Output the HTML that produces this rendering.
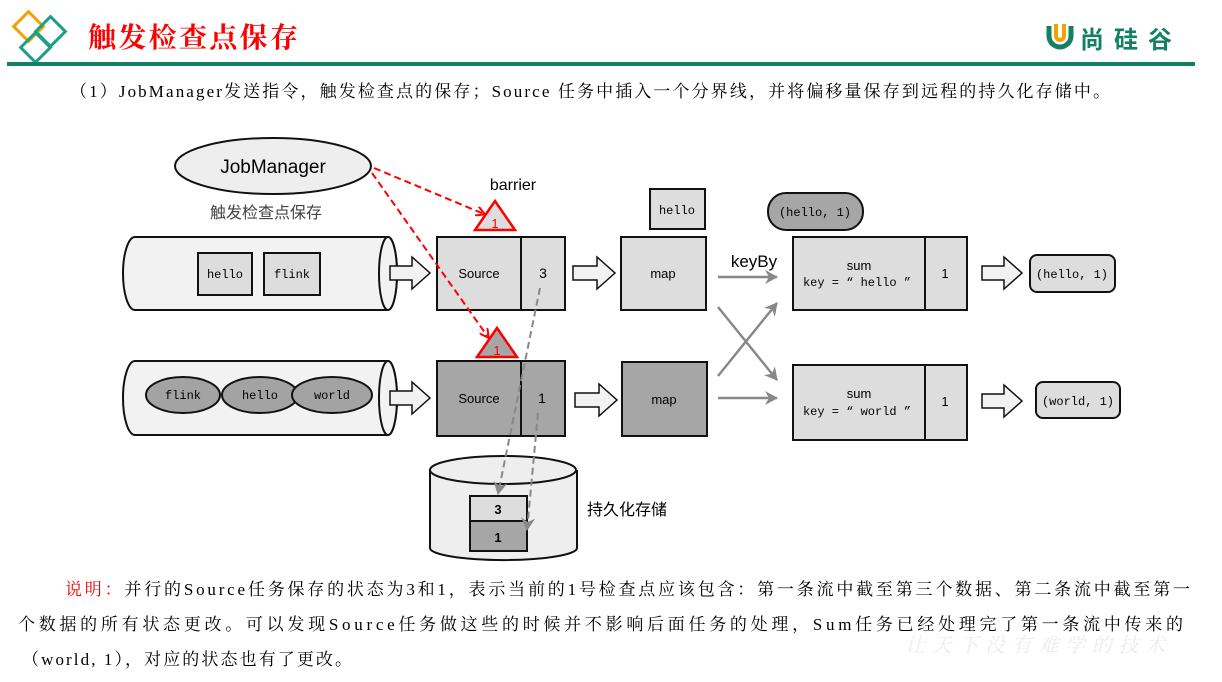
<!DOCTYPE html>
<html><head><meta charset="utf-8"><style>
html,body{margin:0;padding:0;background:#fff;width:1222px;height:682px;overflow:hidden}
svg{display:block}
.s{font-family:"Liberation Serif","Noto Serif CJK SC","Noto Sans CJK SC",serif}
.a{font-family:"Liberation Sans","Noto Sans CJK SC",sans-serif}
.m{font-family:"Liberation Mono","DejaVu Sans Mono",monospace}
</style></head><body>
<svg width="1222" height="682" viewBox="0 0 1222 682" xmlns="http://www.w3.org/2000/svg">
<defs>
<marker id="ra" markerWidth="10" markerHeight="10" refX="8" refY="5" orient="auto" markerUnits="userSpaceOnUse"><path d="M0,0 L9,5 L0,10" fill="none" stroke="#f00" stroke-width="2"/></marker>
<marker id="ga" markerWidth="14" markerHeight="14" refX="12" refY="7" orient="auto" markerUnits="userSpaceOnUse"><path d="M0,0 L13,7 L0,14 L4,7 Z" fill="#888"/></marker>
</defs>
<g fill="none" stroke-width="3">
<rect x="18" y="16" width="21" height="21" transform="rotate(45 28.5 26.5)" stroke="#f5a000"/>
<rect x="40" y="21" width="21" height="21" transform="rotate(45 50.5 31.5)" stroke="#1aa088"/>
<rect x="25" y="37" width="21" height="21" transform="rotate(45 35.5 47.5)" stroke="#1aa088"/>
</g>
<text x="88" y="47" class="s" font-size="28" fill="#f00" font-weight="bold" textLength="210">触发检查点保存</text>
<rect x="7" y="62" width="1188" height="4" fill="#138064"/>
<path d="M1049,26 v10 a11,11 0 0 0 22,0 v-10" fill="none" stroke="#138064" stroke-width="5"/>
<path d="M1056,24 v12 a4,4 0 0 0 8,0 v-12" fill="none" stroke="#f5a000" stroke-width="4"/>
<text x="1080" y="48" class="a" font-size="24" fill="#138064" font-weight="bold" textLength="92">尚硅谷</text>
<text x="70" y="97" class="s" font-size="17" fill="#000" textLength="1040">（1）JobManager发送指令，触发检查点的保存；Source 任务中插入一个分界线，并将偏移量保存到远程的持久化存储中。</text>

<ellipse cx="273" cy="166" rx="98" ry="28" fill="#eee" stroke="#111" stroke-width="2"/>
<text x="273" y="173" class="a" font-size="19" text-anchor="middle">JobManager</text>
<text x="266" y="218" class="a" font-size="16" fill="#444" text-anchor="middle">触发检查点保存</text>

<g stroke="#111" stroke-width="2">
<path d="M135,237 H388 A9,36.5 0 0 1 388,310 H135 A12,36.5 0 0 1 135,237 Z" fill="#f2f2f2"/>
<ellipse cx="388" cy="273.5" rx="9" ry="36.5" fill="#f2f2f2"/>
<path d="M135,361 H388 A9,37 0 0 1 388,435 H135 A12,37 0 0 1 135,361 Z" fill="#f2f2f2"/>
<ellipse cx="388" cy="398" rx="9" ry="37" fill="#f2f2f2"/>
<rect x="198" y="253" width="54" height="42" fill="#ddd"/>
<rect x="264" y="253" width="56" height="42" fill="#ddd"/>
<ellipse cx="183" cy="395" rx="37" ry="18" fill="#a3a3a3"/>
<ellipse cx="260" cy="395" rx="38" ry="18" fill="#a3a3a3"/>
<ellipse cx="332" cy="395" rx="40" ry="18" fill="#a3a3a3"/>
</g>
<g class="m" font-size="12" text-anchor="middle">
<text x="225" y="278">hello</text><text x="292" y="278">flink</text>
<text x="183" y="399">flink</text><text x="260" y="399">hello</text><text x="332" y="399">world</text>
</g>

<g fill="#f2f2f2" stroke="#111" stroke-width="1.5">
<path d="M390,266 h22 v-9 l18,16 l-18,16 v-9 h-22 z"/>
<path d="M390,391 h22 v-9 l18,16 l-18,16 v-9 h-22 z"/>
<path d="M573,266 h24 v-9 l18,16 l-18,16 v-9 h-24 z"/>
<path d="M575,393 h24 v-9 l18,16 l-18,16 v-9 h-24 z"/>
<path d="M982,266 h22 v-9 l18,16 l-18,16 v-9 h-22 z"/>
<path d="M982,394 h22 v-9 l18,16 l-18,16 v-9 h-22 z"/>
</g>

<g stroke="#111" stroke-width="2">
<rect x="437" y="237" width="128" height="73" fill="#ddd"/>
<line x1="521" y1="237" x2="521" y2="310"/>
<rect x="437" y="361" width="128" height="75" fill="#a6a6a6"/>
<line x1="521" y1="361" x2="521" y2="436"/>
<rect x="621" y="237" width="85" height="73" fill="#ddd"/>
<rect x="622" y="362" width="85" height="74" fill="#a6a6a6"/>
<rect x="650" y="189" width="55" height="40" fill="#ddd"/>
<rect x="793" y="237" width="174" height="73" fill="#ddd"/>
<line x1="925" y1="237" x2="925" y2="310"/>
<rect x="793" y="365" width="174" height="75" fill="#ddd"/>
<line x1="925" y1="365" x2="925" y2="440"/>
<rect x="768" y="193" width="95" height="37" rx="18" fill="#a6a6a6"/>
<rect x="1030" y="255" width="85" height="37" rx="7" fill="#ddd"/>
<rect x="1036" y="382" width="84" height="36" rx="7" fill="#ddd"/>
</g>
<g class="a" font-size="13" text-anchor="middle">
<text x="479" y="278">Source</text><text x="543" y="278" font-size="14">3</text>
<text x="479" y="403">Source</text><text x="542" y="403" font-size="14">1</text>
<text x="663" y="278">map</text><text x="664" y="404">map</text>
<text x="859" y="270">sum</text><text x="945" y="278">1</text>
<text x="859" y="398">sum</text><text x="945" y="406">1</text>
<text x="754" y="267" font-size="17">keyBy</text>
<text x="513" y="190" font-size="16">barrier</text>
</g>
<g class="m" font-size="12" text-anchor="middle">
<text x="677" y="214">hello</text>
<text x="815" y="216">(hello, 1)</text>
<text x="857" y="286">key = “ hello ”</text>
<text x="857" y="415">key = “ world ”</text>
<text x="1072" y="278">(hello, 1)</text>
<text x="1078" y="405">(world, 1)</text>
</g>

<g stroke="#888" stroke-width="2.5" marker-end="url(#ga)">
<line x1="718" y1="277" x2="777" y2="277"/>
<line x1="718" y1="398" x2="777" y2="398"/>
<line x1="718" y1="307" x2="777" y2="380"/>
<line x1="718" y1="376" x2="777" y2="303"/>
</g>

<polygon points="495,201 475,230 515,230" fill="#ddd" stroke="#f00" stroke-width="2.5"/>
<text x="495" y="228" class="a" font-size="13" fill="#f00" text-anchor="middle">1</text>
<polygon points="497,328 477,357 517,357" fill="#a6a6a6" stroke="#f00" stroke-width="2.5"/>
<text x="497" y="355" class="a" font-size="13" fill="#f00" text-anchor="middle">1</text>
<g stroke="#f00" stroke-width="2" stroke-dasharray="7,4" fill="none" marker-end="url(#ra)">
<line x1="374" y1="168" x2="484" y2="214"/>
<line x1="372" y1="173" x2="488" y2="337"/>
</g>

<path d="M430,470 V548 A73,12 0 0 0 577,548 V470" fill="#eee" stroke="#111" stroke-width="2"/>
<ellipse cx="503" cy="470" rx="73" ry="14" fill="#eee" stroke="#111" stroke-width="2"/>
<rect x="470" y="496" width="57" height="25" fill="#ddd" stroke="#111" stroke-width="2"/>
<rect x="470" y="521" width="57" height="30" fill="#a6a6a6" stroke="#111" stroke-width="2"/>
<text x="498" y="514" class="a" font-size="13" font-weight="bold" text-anchor="middle">3</text>
<text x="498" y="542" class="a" font-size="13" font-weight="bold" text-anchor="middle">1</text>
<text x="587" y="515" class="a" font-size="16">持久化存储</text>
<g stroke="#888" stroke-width="2" stroke-dasharray="7,4" fill="none" marker-end="url(#ga)">
<line x1="540" y1="288" x2="498" y2="494"/>
<line x1="538" y1="413" x2="527" y2="530"/>
</g>

<text x="65" y="595" class="s" font-size="17" textLength="1125"><tspan fill="#e00">说明：</tspan>并行的Source任务保存的状态为3和1，表示当前的1号检查点应该包含：第一条流中截至第三个数据、第二条流中截至第一</text>
<text x="18" y="630" class="s" font-size="17" textLength="1165">个数据的所有状态更改。可以发现Source任务做这些的时候并不影响后面任务的处理，Sum任务已经处理完了第一条流中传来的</text>
<text x="22" y="665" class="s" font-size="17" textLength="330">（world, 1），对应的状态也有了更改。</text>
<text x="905" y="652" class="s" font-size="20" fill="#ececec" font-style="italic" textLength="260">让天下没有难学的技术</text>
</svg>
</body></html>
